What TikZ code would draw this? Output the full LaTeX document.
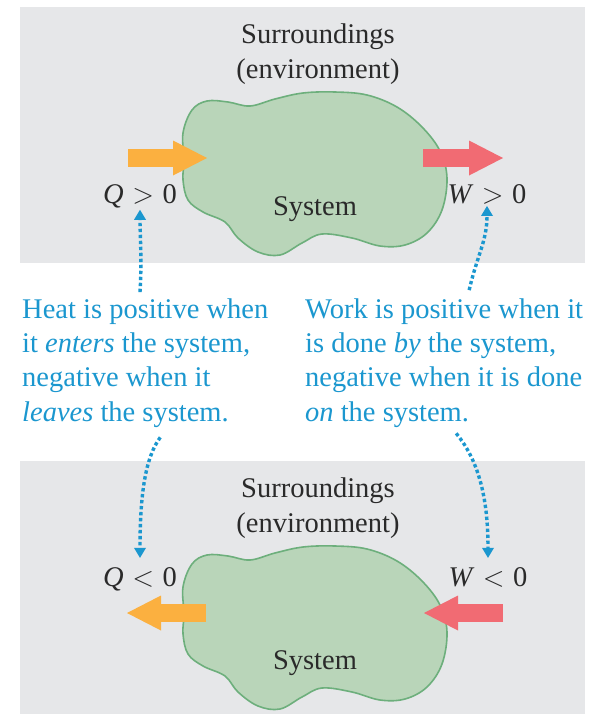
\RequirePackage{fix-cm}
\documentclass[tikz,border=0pt]{standalone}
\usepackage{fontspec}
\setmainfont{Liberation Serif}
\usetikzlibrary{arrows.meta, positioning}
\definecolor{panelgray}{HTML}{E6E7E9}
\definecolor{blobgreen}{HTML}{B9D5B9}
\definecolor{blobedge}{HTML}{6DAF7C}
\definecolor{heatorange}{HTML}{FBB040}
\definecolor{workred}{HTML}{F16B73}
\definecolor{noteblue}{HTML}{1B97CF}
\definecolor{textgray}{HTML}{2A2A2A}
\tikzset{
    panel/.style={
        fill=panelgray,
        draw=none
    },
    blob/.style={
        fill=blobgreen,
        draw=blobedge,
        line width=1.6pt
    },
    heading/.style={
        align=center,
        text=textgray,
        inner sep=0pt,
        font=\fontsize{28.5}{35}\selectfont
    },
    sign/.style={
        text=textgray,
        inner sep=2pt,
        font=\fontsize{28.5}{34}\selectfont
    },
    note/.style={
        align=left,
        text=noteblue,
        inner sep=0pt,
        font=\fontsize{28.5}{34.3}\selectfont
    },
    heatflow/.style={
        draw=heatorange,
        line width=18pt,
        -{Triangle[width=35pt,length=34pt,line width=0pt]}
    },
    workflow/.style={
        draw=workred,
        line width=18pt,
        -{Triangle[width=35pt,length=34pt,line width=0pt]}
    },
    hint/.style={
        draw=noteblue,
        line width=3.4pt,
        dash pattern=on 3.4pt off 2.6pt,
        -{Triangle[width=12pt,length=10pt,line width=0pt]}
    }
}
\newcommand\systemblob{
    \path [blob] plot [smooth cycle, tension=0.6] coordinates {
        (183,133) (192,110) (207,101) (228,102) (250,106) (275,99)
        (303,93) (335,92) (367,95) (397,107) (422,127) (440,151)
        (447,178) (442,210) (427,233) (405,245) (380,246) (352,238)
        (322,234) (302,243) (280,255) (258,252) (238,238) (225,222)
        (203,212) (188,200) (183,180) (184,160)};
}

\begin{document}
\begin{tikzpicture}[x=1pt, y=-1pt]

\useasboundingbox (0,0) rectangle (603,716);

\path [panel] (20,7) rectangle (585,263);
\path [panel] (20,461) rectangle (585,714);

\systemblob
\begin{scope}[shift={(0,454)}]
\systemblob
\end{scope}

\draw [heatflow] (128,158) -- (207,158);
\draw [workflow] (423,158) -- (503,158);
\draw [heatflow] (206,613) -- (127,613);
\draw [workflow] (503,613) -- (424,613);

\node (surrtop) [heading, anchor=base] at (318,78) {Surroundings\\(environment)};
\node (systop) [heading, anchor=base] at (315,215) {System};
\node (surrbot) [heading, anchor=base] at (318,532) {Surroundings\\(environment)};
\node (sysbot) [heading, anchor=base] at (315,669) {System};

\node (qpos) [sign, anchor=base] at (140,203) {\textit{Q}\hspace{.3em}$>$\hspace{.3em}0};
\node (wpos) [sign, anchor=base] at (487,203) {\textit{W}\hspace{.3em}$>$\hspace{.3em}0};
\node (qneg) [sign, anchor=base] at (140,586) {\textit{Q}\hspace{.3em}$<$\hspace{.3em}0};
\node (wneg) [sign, anchor=base] at (488,586) {\textit{W}\hspace{.3em}$<$\hspace{.3em}0};

\node (heatnote) [note, anchor=base west] at (22,421) {Heat is positive when\\it \textit{enters} the system,\\negative when it\\\textit{leaves} the system.};
\node (worknote) [note, anchor=base west] at (305,421) {Work is positive when it\\is done \textit{by} the system,\\negative when it is done\\\textit{on} the system.};

\draw [hint] ([yshift=6pt]heatnote.north -| qpos.south) .. controls +(2,-30) and +(0,25) .. (qpos.south);
\draw [hint] ([xshift=25pt,yshift=8pt]worknote.north) .. controls +(8,-35) and +(0,35) .. (wpos.south);
\draw [hint, shorten >=7pt] ([xshift=15pt,yshift=-10pt]heatnote.south) .. controls +(-15,20) and +(0,-70) .. (qneg.north);
\draw [hint, shorten >=7pt] ([xshift=12pt,yshift=-6pt]worknote.south) .. controls +(25,30) and +(0,-60) .. (wneg.north);

\end{tikzpicture}
\end{document}
